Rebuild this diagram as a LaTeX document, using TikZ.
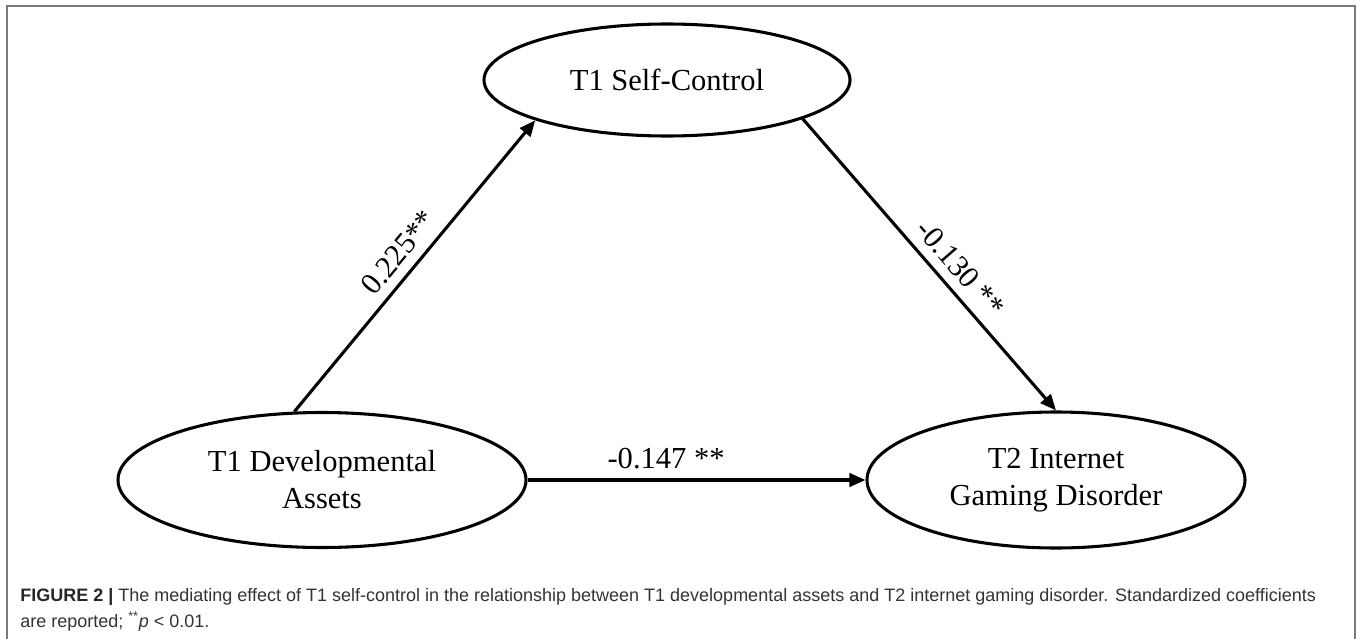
\documentclass[tikz,border=0pt]{standalone}
\usepackage{fontspec}
\setmainfont{Liberation Serif}
\newfontfamily\capfont{Liberation Sans}
\usepackage{xcolor}
\usetikzlibrary{arrows.meta, shapes.geometric}

\definecolor{framegray}{HTML}{7A7A7A}
\definecolor{captext}{HTML}{333333}

\begin{document}
\begin{tikzpicture}[x=0.75pt, y=-0.75pt,
  construct/.style={draw, ellipse, line width=2.3pt, inner sep=0pt, align=center,
    font=\fontsize{22.9pt}{27.75pt}\selectfont},
  effect/.style={line width=2.3pt, -{Triangle[length=12pt, width=10pt]}},
  coef/.style={font=\fontsize{22.9pt}{27.75pt}\selectfont, inner sep=1pt}]

\useasboundingbox (0,0) rectangle (1357,639);

% frame
\draw[framegray, line width=1.2pt] (7,639) -- (7,6) -- (1355,6) -- (1355,639);

\node[construct, minimum width=274.5pt, minimum height=84pt] (sc) at (667,80) {T1 Self-Control};
\node[construct, minimum width=306pt, minimum height=101.25pt] (dev) at (322,480) {T1 Developmental\\Assets};
\node[construct, minimum width=283.5pt, minimum height=102pt] (igd) at (1056,480) {T2 Internet\\Gaming Disorder};

\draw[effect] (dev.112) -- node[coef, sloped, above=6pt] {0.225**} (sc.197);
\draw[effect] (sc.-16) -- node[coef, sloped, above=6pt, pos=0.56] {-0.130 **} (igd.north);
\draw[effect] (dev.east) -- node[coef, above=6pt, pos=0.41] {-0.147 **} (igd.west);

% caption (base anchor sits on the last line)
\node[anchor=base west, align=left, inner sep=0pt, text=captext,
  font=\capfont\fontsize{13.5pt}{19.5pt}\selectfont] (cap) at (20,627)
  {\textbf{\color{black!85}FIGURE 2 |} The mediating effect of T1 self-control in the relationship between T1 developmental assets and T2 internet gaming disorder. Standardized coefficients\\
  are reported; \textsuperscript{**}\textit{p} < 0.01.};

\end{tikzpicture}
\end{document}
